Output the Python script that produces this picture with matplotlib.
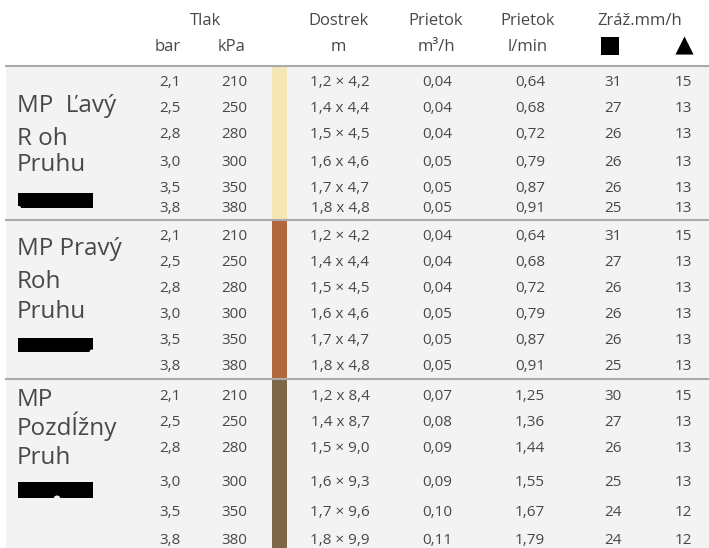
import matplotlib
matplotlib.use("Agg")
import matplotlib.pyplot as plt
from matplotlib.patches import Rectangle, Circle

plt.rcParams['font.family'] = ['Open Sans', 'DejaVu Sans']

# data
bar = ["2,1", "2,5", "2,8", "3,0", "3,5", "3,8"]
kpa = ["210", "250", "280", "300", "350", "380"]
dostrek = [
    ["1,2 \u00d7 4,2", "1,4 x 4,4", "1,5 \u00d7 4,5", "1,6 x 4,6", "1,7 x 4,7", "1,8 x 4,8"],
    ["1,2 \u00d7 4,2", "1,4 x 4,4", "1,5 \u00d7 4,5", "1,6 x 4,6", "1,7 x 4,7", "1,8 x 4,8"],
    ["1,2 x 8,4", "1,4 x 8,7", "1,5 \u00d7 9,0", "1,6 \u00d7 9,3", "1,7 \u00d7 9,6", "1,8 \u00d7 9,9"],
]
prietok_m3h = [
    ["0,04", "0,04", "0,04", "0,05", "0,05", "0,05"],
    ["0,04", "0,04", "0,04", "0,05", "0,05", "0,05"],
    ["0,07", "0,08", "0,09", "0,09", "0,10", "0,11"],
]
prietok_lmin = [
    ["0,64", "0,68", "0,72", "0,79", "0,87", "0,91"],
    ["0,64", "0,68", "0,72", "0,79", "0,87", "0,91"],
    ["1,25", "1,36", "1,44", "1,55", "1,67", "1,79"],
]
zraz_sq = [
    ["31", "27", "26", "26", "26", "25"],
    ["31", "27", "26", "26", "26", "25"],
    ["30", "27", "26", "25", "24", "24"],
]
zraz_tri = [
    ["15", "13", "13", "13", "13", "13"],
    ["15", "13", "13", "13", "13", "13"],
    ["15", "13", "13", "13", "12", "12"],
]
labels = [["MP  \u013dav\u00fd", "R oh", "Pruhu"],
          ["MP Prav\u00fd", "Roh", "Pruhu"],
          ["MP", "Pozd\u013a\u017eny", "Pruh"]]
strip_colors = ["#f5e6b6", "#b2683f", "#7e6748"]

# layout (pixels)
row_y = [[82, 108, 135, 162, 188, 209],
         [236, 263, 289, 315, 341, 367],
         [397, 422, 449, 482, 513, 540]]
label_y = [[106, 139, 165], [249, 282, 312], [400, 426, 458]]
bar_y = [(193, 208), (338, 352), (482, 498)]
sec_top = [66, 220, 379]
sec_bot = [220, 379, 548]
col_x = [170, 234, 340, 437, 530, 613, 683]

txt = "#484848"
line_c = "#aaaaaa"

fig = plt.figure(figsize=(7.09, 5.48), dpi=100)
ax = fig.add_axes([0, 0, 1, 1])
ax.set_xlim(0, 709)
ax.set_ylim(548, 0)
ax.axis('off')

ax.add_patch(Rectangle((6, 66), 703, 482, facecolor="#f3f3f3", edgecolor="none"))

# header
hs = 12
for x, t in [(205, "Tlak"), (338, "Dostrek"), (436, "Prietok"), (528, "Prietok"), (640, "Zr\u00e1\u017e.mm/h")]:
    ax.text(x, 21, t, ha='center', va='center', fontsize=hs, color=txt)
for x, t in [(168, "bar"), (232, "kPa"), (338, "m"), (436, "m\u00b3/h"), (528, "l/min")]:
    ax.text(x, 47, t, ha='center', va='center', fontsize=hs, color=txt)
ax.scatter([610], [46], marker='s', s=150, color='black', linewidths=0)
ax.scatter([684], [45], marker='^', s=170, color='black', linewidths=0)

for s in range(3):
    ax.plot([6, 709], [sec_top[s], sec_top[s]], color=line_c, lw=1.5, zorder=3)
    ax.add_patch(Rectangle((272, sec_top[s]), 15, sec_bot[s] - sec_top[s],
                           facecolor=strip_colors[s], edgecolor="none", zorder=2))
    for i, t in enumerate(labels[s]):
        ax.text(17, label_y[s][i], t, ha='left', va='center', fontsize=17.5, color=txt)
    y0, y1 = bar_y[s]
    ax.add_patch(Rectangle((18, y0), 75, y1 - y0, facecolor='black', edgecolor='none'))
    cols = [bar, kpa, dostrek[s], prietok_m3h[s], prietok_lmin[s], zraz_sq[s], zraz_tri[s]]
    for c, vals in enumerate(cols):
        for r, v in enumerate(vals):
            ax.text(col_x[c], row_y[s][r], v, ha='center', va='center', fontsize=11, color=txt)

# small notches in the black bars
ax.add_patch(Circle((19, 208), 2, facecolor="#f3f3f3", edgecolor='none'))
ax.add_patch(Circle((92, 352), 2.5, facecolor="#f3f3f3", edgecolor='none'))
ax.add_patch(Circle((57, 499), 3.5, facecolor="#f3f3f3", edgecolor='none'))

fig.savefig("out.png", dpi=100)
